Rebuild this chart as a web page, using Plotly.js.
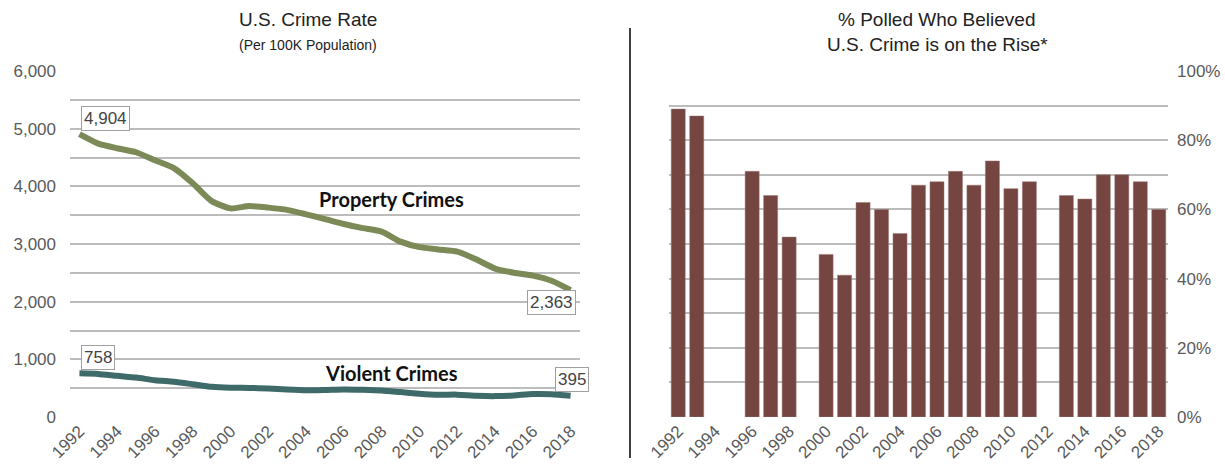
<!DOCTYPE html>
<html>
<head>
<meta charset="utf-8">
<script src="https://cdn.plot.ly/plotly-3.0.1.min.js"></script>
<style>html,body{margin:0;padding:0;background:#fff;}#chart{width:1225px;height:466px;}</style>
</head>
<body>
<div id="chart"></div>
<script>
// ---- data ----
const years = [1992,1993,1994,1995,1996,1997,1998,1999,2000,2001,2002,2003,2004,2005,2006,2007,2008,2009,2010,2011,2012,2013,2014,2015,2016,2017,2018];
const propertyCrimes = [4904,4740,4660,4591,4451,4316,4053,3744,3618,3658,3631,3591,3514,3432,3347,3276,3215,3041,2946,2905,2868,2734,2574,2501,2452,2363,2200];
const violentCrimes = [758,747,714,685,637,611,568,523,507,505,494,476,463,469,479,472,459,432,405,387,388,369,362,374,398,395,369];
const pollPct = [89,87,null,null,71,64,52,null,47,41,62,60,53,67,68,71,67,74,66,68,null,64,63,70,70,68,60];
const startLabels = ['4,904','758'];
const endLabels = ['2,363','395'];
const seriesNames = ['Property Crimes','Violent Crimes'];

const grid = '#bcbcbc';
const tickFont = {family:'Liberation Sans, Arial, sans-serif', size:17, color:'#5a5a5a'};
const propColor = '#7b8a56';
const violColor = '#3f6a6a';
const barColor = '#744541';
const n = years.length;

const traces = [
  {x: years, y: propertyCrimes, type:'scatter', mode:'lines', line:{color:propColor, width:6, shape:'spline', smoothing:0.6}, xaxis:'x', yaxis:'y', hoverinfo:'skip'},
  {x: years, y: violentCrimes, type:'scatter', mode:'lines', line:{color:violColor, width:6, shape:'spline', smoothing:0.6}, xaxis:'x', yaxis:'y', hoverinfo:'skip'},
  {x: years, y: pollPct, type:'bar', marker:{color:barColor, line:{color:'#9a7a77', width:0.5}}, xaxis:'x2', yaxis:'y2', hoverinfo:'skip'}
];

const boxStyle = {bgcolor:'#fff', bordercolor:'#a0a0a0', borderwidth:1, borderpad:2, showarrow:false, font:{family:'Liberation Sans, Arial, sans-serif', size:17, color:'#444'}};
const titleFont = {family:'Liberation Sans, Arial, sans-serif', size:19, color:'#222'};
const subFont = {family:'Liberation Sans, Arial, sans-serif', size:14, color:'#222'};
const seriesFont = {family:'Lato, sans-serif', size:20, color:'#111', weight:900};

const annotations = [
  Object.assign({}, boxStyle, {xref:'x', yref:'y', x: years[0], y: propertyCrimes[0], text:startLabels[0], xanchor:'left', yanchor:'bottom', xshift:2, yshift:3}),
  Object.assign({}, boxStyle, {xref:'x', yref:'y', x: years[0], y: violentCrimes[0], text:startLabels[1], xanchor:'left', yanchor:'bottom', xshift:2, yshift:3}),
  Object.assign({}, boxStyle, {xref:'x', yref:'y', x: years[n-1], y: propertyCrimes[n-1], text:endLabels[0], xanchor:'right', yanchor:'top', xshift:5, yshift:0}),
  Object.assign({}, boxStyle, {xref:'x', yref:'y', x: years[n-1], y: violentCrimes[n-1], text:endLabels[1], xanchor:'right', yanchor:'bottom', xshift:18, yshift:4}),
  {xref:'x', yref:'y', x:2008.5, y:3780, text:'<b>'+seriesNames[0]+'</b>', showarrow:false, font:seriesFont},
  {xref:'x', yref:'y', x:2008.5, y:760, text:'<b>'+seriesNames[1]+'</b>', showarrow:false, font:seriesFont},
  {xref:'paper', yref:'paper', x:308/1225, y:(466-19)/466, text:'U.S. Crime Rate', showarrow:false, font:titleFont, xanchor:'center', yanchor:'middle'},
  {xref:'paper', yref:'paper', x:308/1225, y:(466-45)/466, text:'(Per 100K Population)', showarrow:false, font:subFont, xanchor:'center', yanchor:'middle'},
  {xref:'paper', yref:'paper', x:937/1225, y:(466-19)/466, text:'% Polled Who Believed', showarrow:false, font:titleFont, xanchor:'center', yanchor:'middle'},
  {xref:'paper', yref:'paper', x:937/1225, y:(466-45)/466, text:'U.S. Crime is on the Rise*', showarrow:false, font:titleFont, xanchor:'center', yanchor:'middle'}
];

const layout = {
  width:1225, height:466,
  margin:{l:0, r:0, t:0, b:0},
  paper_bgcolor:'#fff', plot_bgcolor:'#fff',
  showlegend:false,
  bargap:0.24,
  xaxis:{domain:[70/1225, 580/1225], range:[1991.5, 2018.5], tickvals: years.filter((y,i)=>i%2===0), tickangle:-45, showgrid:false, zeroline:false, showline:false, ticks:'', tickfont:tickFont, anchor:'y', fixedrange:true},
  yaxis:{domain:[(466-417)/466, (466-71)/466], range:[0,6000], dtick:1000, tickformat:',', showgrid:true, gridcolor:grid, gridwidth:2, zeroline:false, ticks:'', tickfont:tickFont, ticklabelstandoff:13, anchor:'x',
    minor:{dtick:500, showgrid:true, gridcolor:grid, gridwidth:2}},
  xaxis2:{domain:[669/1225, 1168/1225], range:[1991.5, 2018.5], tickvals: years.filter((y,i)=>i%2===0), tickangle:-45, showgrid:false, zeroline:false, showline:false, ticks:'', tickfont:tickFont, anchor:'y2', fixedrange:true},
  yaxis2:{domain:[(466-417)/466, (466-71)/466], range:[0,100], dtick:20, ticksuffix:'%', side:'right', showgrid:true, gridcolor:grid, gridwidth:2, zeroline:false, ticks:'', tickfont:tickFont, ticklabelstandoff:8, anchor:'x2',
    minor:{dtick:10, showgrid:true, gridcolor:grid, gridwidth:2}},
  annotations: annotations,
  shapes:[{type:'line', xref:'paper', yref:'paper', x0:630/1225, x1:630/1225, y0:(466-458)/466, y1:(466-28)/466, line:{color:'#000', width:1.5}}]
};

Plotly.newPlot('chart', traces, layout, {displayModeBar:false, staticPlot:true});
</script>
</body>
</html>
